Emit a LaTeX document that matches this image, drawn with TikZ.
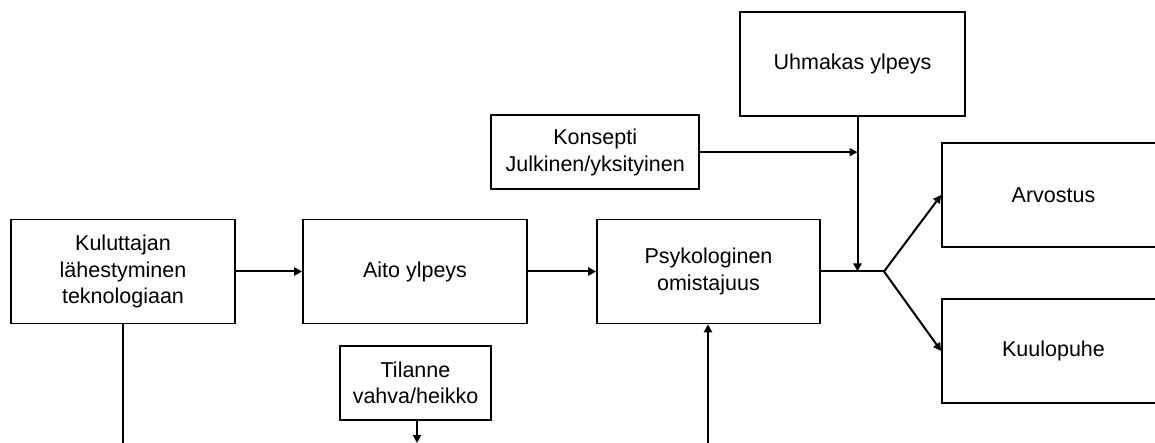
\documentclass[tikz,border=0pt]{standalone}
\usepackage{fontspec}
\setmainfont{Liberation Sans}
\usetikzlibrary{arrows.meta}
\begin{document}
\begin{tikzpicture}[x=1pt,y=-1pt,
  box/.style={draw,line width=1.6pt,align=center,font=\fontsize{21.5}{26.5}\selectfont,inner sep=0pt},
  conn/.style={line width=2pt},
  arr/.style={conn,-{Triangle[length=8pt,width=8pt]}}]
\useasboundingbox (0,0) rectangle (1155,443);
\node[box,minimum width=224pt,minimum height=104pt] (kul) at (123,271.5) {Kuluttajan\\lähestyminen\\teknologiaan};
\node[box,minimum width=224pt,minimum height=104pt] (aito) at (415,271.5) {Aito ylpeys};
\node[box,minimum width=223pt,minimum height=104pt] (psy) at (708.5,271.5) {Psykologinen\\omistajuus};
\node[box,minimum width=151pt,minimum height=74pt] (til) at (415.5,383) {Tilanne\\vahva/heikko};
\node[box,minimum width=208pt,minimum height=74pt] (kon) at (595.2,152.2) {Konsepti\\Julkinen/yksityinen};
\node[box,minimum width=225pt,minimum height=104pt] (uhm) at (852.5,64) {Uhmakas ylpeys};
\node[box,minimum width=223pt,minimum height=104pt] (arv) at (1053.5,195) {Arvostus};
\node[box,minimum width=223pt,minimum height=104pt] (kuu) at (1053.5,351) {Kuulopuhe};
\coordinate (j) at (857.5,271.5);
\coordinate (b) at (884,271.5);
\coordinate (kulend) at (122.5,443);
\coordinate (tilend) at (417,443);
\coordinate (psystart) at (708,443);
\draw[arr] (kul.east) -- (aito.west);
\draw[arr] (aito.east) -- (psy.west);
\draw[conn] (psy.east) -- (b);
\draw[arr] (uhm.south -| j) -- (j);
\draw[arr] (kon.east) -- (kon.east -| j);
\draw[arr] (b) -- (arv.west);
\draw[arr] (b) -- (kuu.west);
\draw[conn] (kul.south -| kulend) -- (kulend);
\draw[arr] (til.south -| tilend) -- (tilend);
\draw[arr] (psystart) -- (psy.south -| psystart);
\end{tikzpicture}
\end{document}
